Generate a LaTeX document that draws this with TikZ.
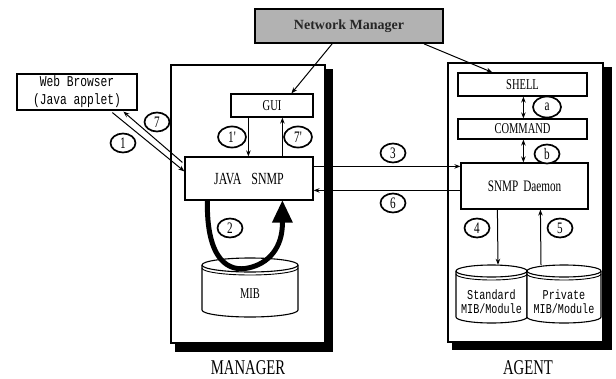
\documentclass[tikz,border=0pt]{standalone}
\usepackage{fontspec}
\setmainfont{Liberation Serif}
\newfontfamily\cserif[FakeStretch=0.7]{Liberation Serif}
\newfontfamily\cmono[FakeStretch=0.75]{Liberation Mono}
\usetikzlibrary{arrows.meta,shapes.geometric,calc}
\newcommand\drawcyl[5]{%
  \pgfmathsetmacro\cylrx{(#2-#1)/2}%
  \filldraw[fill=white,line width=1.1pt] (#1,#3) -- (#1,#4)
     arc[start angle=180,end angle=360,x radius=\cylrx pt,y radius=#5pt] -- (#2,#3)
     arc[start angle=0,end angle=180,x radius=\cylrx pt,y radius=#5pt] -- cycle;
  \draw[line width=1.1pt] (#1,#3) arc[start angle=180,end angle=360,x radius=\cylrx pt,y radius=#5pt];
  \draw[line width=0.9pt] (#1,#3+3) arc[start angle=180,end angle=360,x radius=\cylrx pt,y radius=#5pt];
}
\begin{document}
\begin{tikzpicture}[x=1pt,y=-1pt,
  box/.style={draw,line width=1.2pt,fill=white,rectangle,inner sep=0pt,anchor=center},
  arr/.style={-{Stealth[length=6pt,width=4.5pt]},line width=1pt},
  darr/.style={{Stealth[length=6pt,width=4.5pt]}-{Stealth[length=6pt,width=4.5pt]},line width=1pt},
  num/.style={draw,ellipse,line width=1.7pt,fill=white,inner sep=0pt,minimum width=25pt,minimum height=19pt,font=\cserif\fontsize{16}{16}\selectfont},
  numw/.style={num,minimum width=28pt,minimum height=21pt},
  lbl/.style={font=\cserif\fontsize{21}{21}\selectfont,inner sep=0pt}]
\useasboundingbox (0,0) rectangle (616,378);
% shadows of the two frames
\fill[black] (175,69) rectangle (333,352);
\fill[black] (452,67) rectangle (612,350);
\node[box,line width=1.4pt,minimum width=154pt,minimum height=278pt] (mgr) at (248,204) {};
\node[box,line width=1.4pt,minimum width=155pt,minimum height=279pt] (agent) at (525.5,202.5) {};
\node[lbl] (mgrlbl) at (248,368) {MANAGER};
\node[lbl] (agentlbl) at (528,368) {AGENT};
% top / left boxes
\node[box,line width=1.8pt,fill=gray!60,minimum width=188pt,minimum height=34pt,
      font=\bfseries\fontsize{14}{14}\selectfont,text=black!85] (nm) at (349,26) {Network Manager};
\node[box,minimum width=120pt,minimum height=36pt,align=center,
      font=\cmono\fontsize{15}{18}\selectfont] (web) at (77,92) {Web Browser\\(Java applet)};
% manager contents
\node[box,minimum width=82pt,minimum height=23pt,font=\cserif\fontsize{15}{15}\selectfont] (gui) at (272,105.5) {GUI};
\node[box,minimum width=128pt,minimum height=43pt,font=\cserif\fontsize{17}{17}\selectfont] (java) at (249,178.5) {JAVA\hspace{10pt}SNMP};
\drawcyl{202}{298}{265}{310}{7}
\node[font=\cserif\fontsize{15}{15}\selectfont,inner sep=0pt] (mib) at (250,294) {MIB};
% agent contents
\node[box,minimum width=129pt,minimum height=23pt,font=\cserif\fontsize{15}{15}\selectfont] (shell) at (522.5,84.5) {SHELL};
\node[box,minimum width=129pt,minimum height=20pt,font=\cserif\fontsize{15}{15}\selectfont] (cmd) at (522.5,129) {COMMAND};
\node[box,minimum width=127pt,minimum height=46pt,font=\cserif\fontsize{16}{16}\selectfont] (daemon) at (524.5,186) {SNMP\hspace{5pt}Daemon};
\drawcyl{456}{527}{271}{317}{6}
\drawcyl{527}{601}{271}{317}{6}
\node[minimum width=71pt,minimum height=46pt,inner sep=0pt,align=center,
      font=\cmono\fontsize{13.5}{14}\selectfont] (std) at (491.5,302) {Standard\\MIB/Module};
\node[minimum width=74pt,minimum height=46pt,inner sep=0pt,align=center,
      font=\cmono\fontsize{13.5}{14}\selectfont] (prv) at (564,302) {Private\\MIB/Module};
% connectors
\draw[arr] ($(nm.south west)+(78,0)$) -- ($(gui.north west)+(61,0)$);
\draw[arr] ($(nm.south west)+(170,0)$) -- ($(shell.north west)+(35,0)$);
\draw[arr] ($(web.south west)+(96,2)$) -- ($(java.north west)+(0,15)$);
\draw[arr] ($(java.north west)+(-2,6)$) -- ($(web.south west)+(107,1)$);
\draw[arr] ($(gui.south west)+(18,0)$) -- ($(java.north west)+(64,0)$);
\draw[arr] ($(java.north west)+(98,0)$) -- ($(gui.south west)+(52,0)$);
\draw[arr] ($(java.north east)+(0,10)$) -- ($(daemon.north west)+(0,4)$);
\draw[arr] ($(daemon.north west)+(0,28)$) -- ($(java.north east)+(0,34)$);
\draw[darr] ($(shell.south west)+(66,0)$) -- ($(cmd.north west)+(66,0)$);
\draw[darr] ($(cmd.south west)+(66,0)$) -- ($(daemon.north west)+(63,0)$);
\draw[arr] ($(daemon.south west)+(37,0)$) -- ($(std.north)+(6.5,-14)$);
\draw[arr] ($(prv.north)+(-23,-14)$) -- ($(daemon.south west)+(80,0)$);
% big loop arrow 2
\coordinate (tipbase) at ($(java.south west)+(98,21)$);
\draw[line width=5pt] ($(java.south west)+(23,-1)$) .. controls (206,262) and (230,272) .. (248,268)
   .. controls (268,264) and (283,248) .. (tipbase);
\fill ($(tipbase)+(-10.5,1)$) -- ($(tipbase)+(10.5,1)$) -- ($(java.south west)+(98,0)$) -- cycle;
% numbered marks
\node[num] (n1) at (123,143) {1};
\node[num] (n7) at (157,122) {7};
\node[numw] (n1p) at (232,137) {1'};
\node[numw] (n7p) at (298,137) {7'};
\node[num] (n2) at (230,228) {2};
\node[num] (n3) at (393,153) {3};
\node[num] (n6) at (393,203) {6};
\node[numw] (na) at (547,107) {a};
\node[num] (nb) at (547,154) {b};
\node[num] (n4) at (477,228) {4};
\node[num] (n5) at (560,228) {5};
\end{tikzpicture}
\end{document}
